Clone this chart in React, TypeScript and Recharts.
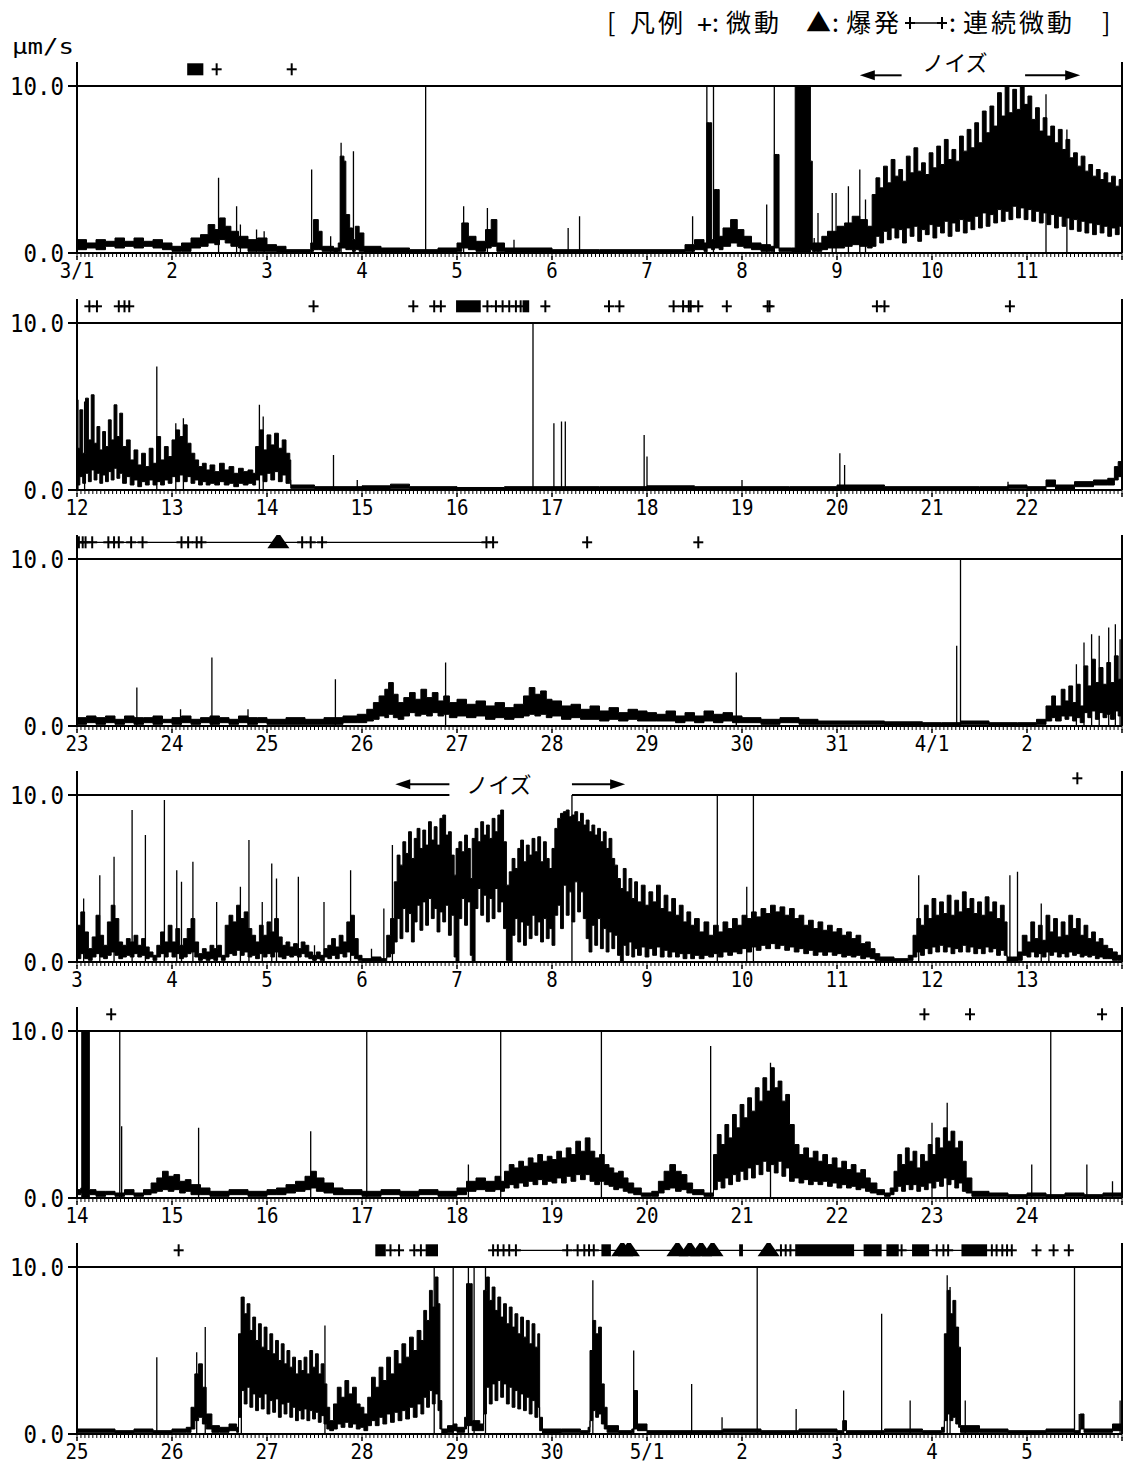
import React from 'react';
import { ComposedChart, XAxis, YAxis, Area, Line, Scatter, ReferenceLine, ReferenceArea, ReferenceDot } from 'recharts';

type Env = [number, number, number][];
type Spk = [number, number][];

// ---- tick labels (one per day, day index 0..10 of each panel) ----
const p1Labels = ['3/1', '2', '3', '4', '5', '6', '7', '8', '9', '10', '11'];
const p2Labels = ['12', '13', '14', '15', '16', '17', '18', '19', '20', '21', '22'];
const p3Labels = ['23', '24', '25', '26', '27', '28', '29', '30', '31', '4/1', '2'];
const p4Labels = ['3', '4', '5', '6', '7', '8', '9', '10', '11', '12', '13'];
const p5Labels = ['14', '15', '16', '17', '18', '19', '20', '21', '22', '23', '24'];
const p6Labels = ['25', '26', '27', '28', '29', '30', '5/1', '2', '3', '4', '5'];
const yTicks = [0, 10];

// ---- panel 1 : 3/1 - 3/12 ----  [day, low, high] amplitude envelope (μm/s)
const p1Env: Env = [[0,0.2,0.8],[0.1,0.3,0.6],[0.2,0.2,0.8],[0.3,0.4,0.7],[0.4,0.3,0.9],[0.5,0.4,0.7],[0.6,0.3,0.9],[0.7,0.4,0.7],[0.8,0.3,0.8],[0.9,0.2,0.6],[1.0,0.1,0.4],[1.1,0.1,0.6],[1.2,0.3,0.9],[1.3,0.4,1.1],[1.38,0.6,1.7],[1.45,0.5,1.4],[1.5,0.8,2.1],[1.56,0.6,1.6],[1.62,0.4,1.3],[1.7,0.3,1.0],[1.8,0.1,0.8],[1.9,0.1,0.9],[2.0,0.1,0.5],[2.1,0,0.4],[2.2,0,0.2],[2.4,0,0.2],[2.46,0.1,0.6],[2.49,0.2,2.0],[2.54,0.2,1.3],[2.58,0.1,0.4],[2.7,0,0.3],[2.75,0.1,0.6],[2.77,0.3,5.8],[2.81,0.3,5.5],[2.83,0.2,2.3],[2.87,0.2,1.5],[2.9,0.1,0.8],[2.93,0.2,1.6],[2.97,0.1,1.2],[3.02,0,0.4],[3.2,0,0.3],[3.5,0,0.2],[3.8,0,0.3],[4.0,0.1,0.6],[4.05,0.3,1.8],[4.12,0.2,1.0],[4.2,0.1,0.7],[4.3,0.3,1.4],[4.36,0.4,2.0],[4.42,0.1,0.6],[4.5,0,0.3],[5.0,0,0.2],[5.5,0,0.2],[6.0,0,0.2],[6.4,0.1,0.5],[6.5,0.2,0.8],[6.6,0.1,0.6],[6.63,0.3,7.8],[6.66,0.3,7.8],[6.68,0.2,0.8],[6.71,0.3,3.8],[6.74,0.3,3.8],[6.76,0.2,1.0],[6.8,0.4,1.5],[6.88,0.6,2.0],[6.95,0.4,1.4],[7.02,0.3,1.0],[7.1,0.2,0.6],[7.2,0.1,0.5],[7.3,0.1,0.4],[7.34,0.3,5.9],[7.37,0.3,5.9],[7.39,0.1,0.3],[7.52,0,0.3],[7.56,0,10],[7.7,0,10],[7.72,0.2,5.5],[7.74,0.1,0.6],[7.84,0.2,1.0],[7.9,0.3,1.3],[8.0,0.3,1.6],[8.08,0.4,1.8],[8.16,0.5,2.2],[8.24,0.4,2.0],[8.32,0.3,1.6],[8.37,0.4,3.5],[8.41,1.0,4.5],[8.45,0.6,3.9],[8.49,1.3,5.2],[8.53,0.8,4.2],[8.57,1.5,5.6],[8.61,0.9,4.6],[8.65,1.4,5.0],[8.69,0.6,4.3],[8.73,1.5,5.8],[8.77,1.0,4.8],[8.81,1.6,6.3],[8.85,0.7,4.9],[8.89,1.4,5.4],[8.93,1.1,4.7],[8.97,1.7,6.0],[9.01,0.9,5.1],[9.05,1.6,6.4],[9.09,1.2,5.3],[9.13,1.9,6.8],[9.17,1.0,5.6],[9.21,1.8,6.2],[9.25,1.3,5.5],[9.29,2.0,7.0],[9.33,1.2,6.1],[9.37,1.9,7.4],[9.41,1.4,6.3],[9.45,2.2,7.8],[9.49,1.5,6.6],[9.53,2.4,8.5],[9.57,1.6,7.2],[9.61,2.3,8.8],[9.65,1.8,7.6],[9.69,2.6,9.6],[9.73,1.9,8.2],[9.77,2.5,10],[9.81,2.0,8.4],[9.85,2.8,9.8],[9.89,2.1,8.6],[9.93,2.7,10],[9.97,2.0,8.9],[10.01,2.6,9.4],[10.05,1.9,8.0],[10.09,2.5,8.7],[10.13,1.8,7.3],[10.17,2.4,8.1],[10.21,1.7,7.0],[10.25,2.3,7.6],[10.29,1.5,6.6],[10.33,2.2,7.4],[10.37,1.6,6.2],[10.41,2.1,6.8],[10.45,1.4,5.7],[10.49,2.0,6.0],[10.53,1.3,5.2],[10.57,1.9,5.8],[10.61,1.2,4.9],[10.65,1.8,5.3],[10.69,1.1,4.6],[10.73,1.7,5.0],[10.77,1.2,4.4],[10.81,1.6,4.8],[10.85,1.0,4.2],[10.89,1.5,4.6],[10.93,1.1,4.0],[10.97,1.6,4.4],[11,1.3,3.8]];
const p1Spk: Spk = [[1.49,4.5],[1.68,2.8],[1.72,1.7],[1.89,1.4],[1.97,1.3],[2.47,5.0],[2.67,1.0],[2.78,6.6],[2.91,6.1],[3.67,10],[4.07,2.8],[4.32,2.7],[4.6,0.8],[5.17,1.5],[5.29,2.2],[6.48,2.2],[6.63,10],[6.7,10],[7.26,2.9],[7.34,10],[7.76,0.9],[7.8,2.4],[7.95,3.6],[7.99,3.6],[8.12,4.0],[8.24,5.0],[8.3,3.2],[10.2,9.5],[10.42,7.4]];
const p1Plus = [1.47, 2.26];
const p1Block: [number, number][] = [[1.16, 1.33]];
const p1Cont: [number, number][] = [];
const p1Erupt: number[] = [];
const p1Noise = [8.24, 8.68, 9.24, 9.98, 10.56];

// ---- panel 2 : 3/12 - 3/23 ----
const p2Env: Env = [[0,0.3,2.5],[0.03,0.8,4.8],[0.06,0.4,2.2],[0.09,1.0,5.5],[0.12,0.5,3.0],[0.15,1.2,5.7],[0.18,0.6,2.8],[0.21,1.0,3.8],[0.24,0.4,2.4],[0.27,0.9,3.5],[0.3,0.5,2.6],[0.33,1.1,4.2],[0.36,0.6,3.0],[0.39,1.3,5.1],[0.42,0.7,3.2],[0.45,1.0,4.6],[0.48,0.4,2.6],[0.52,0.8,3.0],[0.56,0.3,1.8],[0.6,0.6,2.4],[0.64,0.2,1.5],[0.68,0.5,2.2],[0.72,0.3,1.4],[0.76,0.6,2.5],[0.8,0.3,1.6],[0.84,0.5,3.2],[0.88,0.3,1.8],[0.92,0.6,2.6],[0.96,0.4,2.0],[1.0,0.8,3.0],[1.04,0.5,3.6],[1.08,0.9,3.2],[1.12,0.5,3.9],[1.16,0.8,2.8],[1.2,0.4,2.2],[1.24,0.6,1.8],[1.28,0.3,1.4],[1.32,0.5,1.6],[1.36,0.3,1.2],[1.4,0.4,1.5],[1.45,0.3,1.1],[1.5,0.5,1.6],[1.55,0.3,1.2],[1.6,0.4,1.4],[1.65,0.2,1.0],[1.7,0.4,1.3],[1.75,0.3,1.1],[1.8,0.4,1.2],[1.85,0.3,1.0],[1.88,0.6,2.6],[1.92,0.9,3.6],[1.96,0.5,2.4],[2.0,1.0,3.3],[2.04,0.6,2.7],[2.08,1.1,3.4],[2.12,0.5,2.5],[2.16,0.9,3.0],[2.2,0.4,2.2],[2.24,0.6,1.8],[2.25,0.1,0.3],[2.5,0.05,0.2],[3.0,0.05,0.25],[3.3,0.1,0.35],[3.5,0.05,0.2],[4.0,0.05,0.15],[4.5,0.05,0.2],[5.0,0.05,0.2],[5.5,0.05,0.2],[6.0,0.05,0.25],[6.5,0.05,0.2],[7.0,0.05,0.2],[7.5,0.05,0.2],[8.0,0.05,0.3],[8.5,0.05,0.2],[9.0,0.05,0.2],[9.5,0.05,0.2],[9.8,0.1,0.3],[10.0,0.05,0.2],[10.2,0.2,0.6],[10.3,0.05,0.3],[10.5,0.2,0.5],[10.7,0.3,0.6],[10.85,0.3,0.7],[10.92,0.6,1.4],[10.96,0.8,1.7],[11,0.9,1.8]];
const p2Spk: Spk = [[0.01,5.4],[0.08,5.3],[0.84,7.4],[1.04,4.0],[1.12,4.3],[1.92,5.1],[1.96,4.4],[2.7,2.1],[2.95,0.6],[4.8,10],[5.02,4.0],[5.1,4.1],[5.14,4.1],[5.97,3.3],[6.0,2.0],[7.0,0.6],[8.03,2.2],[8.08,1.5],[9.8,0.5]];
const p2Plus = [0.13, 0.21, 0.44, 0.5, 0.55, 2.49, 3.54, 3.76, 3.83, 4.32, 4.41, 4.48, 4.55, 4.62, 4.67, 4.93, 5.6, 5.71, 6.28, 6.38, 6.44, 6.46, 6.54, 6.84, 7.27, 7.29, 8.42, 8.5, 9.82];
const p2Block: [number, number][] = [[3.99, 4.25], [4.69, 4.76]];
const p2Cont: [number, number][] = [];
const p2Erupt: number[] = [];

// ---- panel 3 : 3/23 - 4/3 ----
const p3Env: Env = [[0,0.1,0.5],[0.1,0.2,0.6],[0.2,0.1,0.5],[0.3,0.2,0.6],[0.4,0.1,0.4],[0.5,0.2,0.6],[0.6,0.1,0.5],[0.7,0.2,0.5],[0.8,0.1,0.6],[0.9,0.2,0.4],[1.0,0.1,0.5],[1.1,0.2,0.6],[1.2,0.1,0.4],[1.3,0.2,0.5],[1.4,0.1,0.6],[1.5,0.2,0.5],[1.6,0.1,0.4],[1.7,0.2,0.6],[1.8,0.1,0.5],[1.9,0.2,0.5],[2.0,0.1,0.4],[2.2,0.1,0.5],[2.4,0.1,0.4],[2.6,0.1,0.5],[2.8,0.2,0.6],[2.95,0.2,0.7],[3.05,0.3,1.0],[3.12,0.4,1.4],[3.18,0.6,1.8],[3.24,0.5,2.2],[3.28,0.7,2.6],[3.33,0.5,1.9],[3.38,0.4,1.4],[3.44,0.6,1.7],[3.5,0.8,2.0],[3.56,0.6,1.6],[3.62,0.7,2.2],[3.68,0.6,1.7],[3.74,0.8,2.0],[3.8,0.6,1.5],[3.86,0.7,1.8],[3.92,0.5,1.4],[4.0,0.6,1.6],[4.1,0.5,1.3],[4.2,0.6,1.5],[4.3,0.4,1.2],[4.4,0.5,1.4],[4.5,0.4,1.1],[4.6,0.5,1.3],[4.7,0.6,1.8],[4.76,0.7,2.3],[4.82,0.6,1.9],[4.88,0.7,2.1],[4.94,0.5,1.6],[5.0,0.6,1.5],[5.1,0.4,1.2],[5.2,0.5,1.3],[5.3,0.4,1.0],[5.4,0.4,1.2],[5.5,0.3,0.9],[5.6,0.4,1.1],[5.7,0.3,0.8],[5.8,0.4,1.0],[5.9,0.3,0.9],[6.0,0.3,0.8],[6.1,0.3,0.7],[6.2,0.3,0.9],[6.3,0.2,0.6],[6.4,0.3,0.8],[6.5,0.2,0.6],[6.6,0.3,0.9],[6.7,0.2,0.7],[6.8,0.3,0.8],[6.9,0.2,0.6],[7.0,0.2,0.5],[7.2,0.1,0.4],[7.4,0.2,0.5],[7.6,0.1,0.4],[7.8,0.1,0.3],[8.0,0.1,0.3],[8.5,0.05,0.25],[8.9,0.05,0.2],[9.1,0.05,0.2],[9.3,0.1,0.3],[9.6,0.05,0.2],[9.9,0.05,0.2],[10.1,0.1,0.4],[10.2,0.3,1.2],[10.26,0.5,1.8],[10.3,0.3,1.2],[10.36,0.6,2.2],[10.4,0.4,1.5],[10.44,0.6,2.4],[10.48,0.3,1.4],[10.52,0.5,2.5],[10.56,0.2,1.2],[10.6,0.8,3.6],[10.64,0.5,2.4],[10.68,0.9,4.0],[10.72,0.4,2.6],[10.76,0.8,3.5],[10.8,0.5,2.5],[10.84,0.7,3.8],[10.88,0.4,2.6],[10.92,0.9,4.2],[10.96,0.6,2.8],[11,0.8,3.2]];
const p3Spk: Spk = [[0.63,2.3],[1.09,1.0],[1.42,4.1],[1.8,1.0],[2.72,2.8],[3.88,3.8],[6.94,3.2],[9.26,4.8],[9.3,10],[10.52,3.7],[10.6,5.0],[10.68,5.5],[10.76,5.4],[10.86,5.9],[10.93,6.1],[10.98,5.2]];
const p3Plus = [0.02, 0.06, 0.09, 0.16, 0.33, 0.39, 0.44, 0.57, 0.69, 1.1, 1.17, 1.26, 1.31, 2.37, 2.46, 2.58, 4.31, 4.38, 5.37, 6.54];
const p3Block: [number, number][] = [];
const p3Cont: [number, number][] = [[0.02, 4.38]];
const p3Erupt = [2.12];

// ---- panel 4 : 4/3 - 4/14 ----
const p4Env: Env = [[0,0.2,2.2],[0.04,0.5,3.0],[0.08,0.2,1.8],[0.12,0.1,0.8],[0.16,0.3,1.5],[0.2,0.5,2.8],[0.24,0.3,1.6],[0.28,0.2,1.0],[0.32,0.4,2.4],[0.36,0.6,3.4],[0.4,0.4,2.6],[0.44,0.2,1.2],[0.48,0.3,1.0],[0.52,0.4,1.4],[0.56,0.3,1.2],[0.6,0.5,1.6],[0.64,0.3,1.0],[0.68,0.4,1.4],[0.72,0.2,0.9],[0.76,0.3,0.6],[0.8,0.1,0.4],[0.84,0.3,1.0],[0.88,0.5,1.8],[0.92,0.3,1.2],[0.96,0.6,2.2],[1.0,0.3,1.2],[1.04,0.5,2.0],[1.08,0.2,1.0],[1.12,0.3,1.4],[1.16,0.5,2.0],[1.2,0.6,2.6],[1.24,0.3,1.2],[1.28,0.1,0.5],[1.32,0.2,0.8],[1.36,0.1,0.6],[1.4,0.2,1.0],[1.44,0.1,0.8],[1.48,0.3,1.0],[1.52,0.1,0.4],[1.56,0.3,2.2],[1.6,0.5,2.8],[1.64,0.4,2.4],[1.68,0.7,3.4],[1.72,0.4,2.6],[1.76,0.6,3.0],[1.8,0.3,2.0],[1.84,0.4,1.6],[1.88,0.2,1.2],[1.92,0.5,2.2],[1.96,0.3,1.6],[2.0,0.5,2.4],[2.04,0.3,1.8],[2.08,0.6,2.6],[2.12,0.3,1.5],[2.16,0.2,1.0],[2.2,0.4,1.2],[2.24,0.3,0.9],[2.28,0.4,1.1],[2.32,0.3,0.8],[2.36,0.5,1.2],[2.4,0.3,1.0],[2.44,0.2,0.6],[2.48,0.1,0.4],[2.52,0.2,0.6],[2.56,0.1,0.4],[2.6,0.3,0.8],[2.64,0.2,1.0],[2.68,0.4,1.4],[2.72,0.2,0.9],[2.76,0.5,1.6],[2.8,0.3,1.2],[2.84,0.6,2.4],[2.88,0.4,2.8],[2.92,0.2,1.4],[2.96,0.1,0.4],[3.0,0.05,0.2],[3.1,0.05,0.3],[3.2,0.05,0.2],[3.26,0.3,1.6],[3.3,0.5,2.6],[3.34,1.2,4.8],[3.37,2.6,6.4],[3.4,1.4,5.8],[3.43,3.2,7.2],[3.46,1.8,6.5],[3.49,2.9,7.8],[3.52,1.2,6.2],[3.55,2.4,7.4],[3.58,3.4,8.0],[3.61,1.9,6.8],[3.64,3.6,7.9],[3.67,2.2,7.0],[3.7,3.8,8.4],[3.73,2.6,7.3],[3.76,3.2,8.1],[3.79,1.8,7.0],[3.82,3.0,8.6],[3.85,2.4,8.8],[3.88,3.4,7.6],[3.91,1.6,7.8],[3.94,2.8,6.4],[3.97,0.3,5.2],[3.99,0,6.8],[4.02,2.6,7.2],[4.05,3.8,6.6],[4.08,2.2,7.6],[4.11,3.6,6.8],[4.14,0.4,5.0],[4.16,0,7.4],[4.19,3.2,8.0],[4.22,4.4,7.2],[4.25,2.8,8.4],[4.28,4.0,7.6],[4.31,2.4,8.2],[4.34,3.8,7.4],[4.37,2.6,8.6],[4.4,4.4,7.8],[4.43,3.0,8.8],[4.46,3.6,9.1],[4.49,2.0,7.2],[4.52,0.1,4.6],[4.55,0,5.4],[4.58,1.6,6.2],[4.61,2.6,5.6],[4.64,1.2,6.8],[4.67,2.4,7.3],[4.7,1.0,6.0],[4.73,2.2,7.0],[4.76,1.4,6.4],[4.79,2.8,7.4],[4.82,1.6,6.6],[4.85,2.4,7.5],[4.88,1.2,6.0],[4.91,2.6,7.2],[4.94,1.4,6.2],[4.97,2.0,5.6],[5.0,1.0,6.8],[5.03,2.8,8.0],[5.06,3.4,8.6],[5.09,2.0,8.9],[5.12,4.6,9.0],[5.15,2.8,9.1],[5.18,4.2,8.7],[5.21,2.4,8.8],[5.24,4.8,9.0],[5.27,3.0,8.4],[5.3,4.2,8.9],[5.33,2.6,8.2],[5.36,1.4,8.5],[5.39,0.6,7.8],[5.42,2.2,8.2],[5.45,1.0,7.6],[5.48,2.6,8.0],[5.51,0.8,7.2],[5.54,2.0,7.8],[5.57,0.6,6.8],[5.6,1.8,7.4],[5.63,0.8,6.2],[5.66,1.6,5.8],[5.69,0.4,5.0],[5.72,0,4.4],[5.75,1.0,5.6],[5.78,0.4,4.2],[5.81,1.2,5.0],[5.84,0.3,3.8],[5.87,0.8,4.8],[5.9,0.4,3.6],[5.94,0.9,4.6],[5.98,0.3,3.4],[6.02,0.8,4.2],[6.06,0.4,3.6],[6.1,0.9,4.6],[6.14,0.3,3.2],[6.18,0.7,4.0],[6.22,0.3,3.0],[6.26,0.6,3.8],[6.3,0.3,2.8],[6.34,0.5,3.4],[6.38,0.2,2.4],[6.42,0.5,3.0],[6.46,0.2,2.2],[6.5,0.4,2.6],[6.55,0.2,1.8],[6.6,0.4,2.4],[6.65,0.3,1.6],[6.7,0.5,2.2],[6.75,0.3,1.8],[6.8,0.6,2.4],[6.85,0.4,2.0],[6.9,0.6,2.6],[6.95,0.5,2.2],[7.0,0.8,2.8],[7.05,0.6,2.6],[7.1,0.9,3.0],[7.15,0.7,2.7],[7.2,1.0,3.2],[7.25,0.8,2.9],[7.3,1.1,3.4],[7.35,0.8,3.0],[7.4,1.0,3.3],[7.45,0.7,2.8],[7.5,0.9,3.2],[7.55,0.6,2.6],[7.6,0.8,2.8],[7.65,0.5,2.2],[7.7,0.7,2.5],[7.75,0.4,2.0],[7.8,0.6,2.4],[7.85,0.4,1.9],[7.9,0.6,2.2],[7.95,0.4,1.8],[8.0,0.5,2.0],[8.05,0.3,1.6],[8.1,0.4,1.8],[8.15,0.3,1.4],[8.2,0.4,1.6],[8.25,0.2,1.1],[8.3,0.3,1.2],[8.35,0.2,0.8],[8.4,0.1,0.5],[8.45,0.05,0.3],[8.6,0.05,0.2],[8.75,0.1,0.4],[8.8,0.3,1.6],[8.84,0.6,2.6],[8.88,0.4,2.2],[8.92,0.8,3.4],[8.96,0.5,2.6],[9.0,0.9,3.8],[9.04,0.6,2.8],[9.08,1.0,3.6],[9.12,0.6,2.9],[9.16,0.9,4.0],[9.2,0.5,2.8],[9.24,0.8,3.7],[9.28,0.6,3.0],[9.32,1.0,4.2],[9.36,0.6,3.2],[9.4,0.9,3.8],[9.44,0.5,2.9],[9.48,0.8,3.6],[9.52,0.5,2.8],[9.56,0.9,3.9],[9.6,0.6,3.0],[9.64,0.8,3.6],[9.68,0.4,2.6],[9.72,0.7,3.4],[9.76,0.4,2.4],[9.79,0.05,0.3],[9.85,0.05,0.3],[9.9,0.1,0.6],[9.95,0.4,1.6],[10.0,0.3,1.2],[10.04,0.6,2.4],[10.08,0.3,1.4],[10.12,0.5,2.2],[10.16,0.3,1.3],[10.2,0.6,2.8],[10.24,0.4,1.8],[10.28,0.6,2.6],[10.32,0.3,1.5],[10.36,0.5,2.4],[10.4,0.3,1.6],[10.44,0.6,2.8],[10.48,0.4,2.0],[10.52,0.5,2.6],[10.56,0.3,1.6],[10.6,0.4,2.2],[10.64,0.3,1.4],[10.68,0.4,1.8],[10.72,0.2,1.2],[10.76,0.3,1.4],[10.8,0.2,1.0],[10.85,0.2,0.8],[10.9,0.1,0.6],[10.95,0.1,0.4],[11,0.1,0.3]];
const p4Spk: Spk = [[0.07,3.8],[0.24,5.2],[0.39,6.3],[0.58,9.1],[0.72,7.6],[0.92,9.7],[1.05,5.5],[1.1,4.8],[1.22,6.0],[1.47,3.6],[1.72,4.5],[1.81,7.3],[1.95,3.6],[2.05,5.9],[2.1,5.0],[2.33,5.1],[2.5,1.0],[2.6,3.6],[2.88,5.5],[3.1,0.8],[3.23,3.2],[3.32,7.0],[5.21,10],[6.74,10],[7.05,4.5],[7.12,10],[8.86,5.2],[9.82,5.2],[9.9,5.4],[10.15,3.5],[10.23,2.7]];
const p4Plus = [10.53];
const p4Block: [number, number][] = [];
const p4Cont: [number, number][] = [];
const p4Erupt: number[] = [];
const p4Noise = [3.35, 3.92, 4.44, 5.21, 5.77];

// ---- panel 5 : 4/14 - 4/25 ----
const p5Env: Env = [[0,0.2,0.5],[0.04,0.3,0.6],[0.05,0,10],[0.12,0,10],[0.13,0.2,0.5],[0.2,0.1,0.4],[0.3,0.2,0.4],[0.4,0.1,0.3],[0.5,0.2,0.5],[0.6,0.1,0.3],[0.7,0.2,0.5],[0.78,0.3,0.9],[0.84,0.4,1.2],[0.9,0.5,1.6],[0.96,0.4,1.3],[1.02,0.5,1.4],[1.08,0.3,1.0],[1.14,0.4,1.1],[1.2,0.2,0.8],[1.3,0.2,0.6],[1.4,0.1,0.4],[1.6,0.2,0.5],[1.8,0.1,0.4],[2.0,0.2,0.5],[2.1,0.2,0.6],[2.2,0.3,0.8],[2.3,0.4,1.0],[2.4,0.5,1.3],[2.46,0.6,1.6],[2.52,0.4,1.2],[2.6,0.3,0.9],[2.7,0.2,0.6],[2.8,0.2,0.5],[3.0,0.1,0.4],[3.2,0.2,0.5],[3.4,0.1,0.4],[3.6,0.2,0.5],[3.8,0.1,0.4],[4.0,0.2,0.6],[4.1,0.4,1.0],[4.2,0.5,1.2],[4.3,0.4,1.0],[4.4,0.5,1.3],[4.46,0.4,1.0],[4.5,0.6,1.6],[4.55,0.8,2.0],[4.6,0.6,1.8],[4.65,0.9,2.2],[4.7,0.7,1.9],[4.75,1.0,2.4],[4.8,0.8,2.1],[4.85,1.1,2.6],[4.9,0.8,2.2],[4.95,1.0,2.5],[5.0,0.9,2.3],[5.05,1.2,2.8],[5.1,0.9,2.4],[5.15,1.3,3.0],[5.2,1.0,2.6],[5.25,1.4,3.4],[5.3,1.1,2.8],[5.35,1.4,3.6],[5.4,1.0,2.8],[5.45,0.8,2.4],[5.5,1.0,2.6],[5.55,0.8,2.0],[5.6,0.7,1.8],[5.65,0.5,1.5],[5.7,0.6,1.6],[5.75,0.4,1.2],[5.8,0.3,0.9],[5.86,0.2,0.6],[5.94,0.1,0.3],[6.05,0.1,0.4],[6.12,0.3,1.0],[6.18,0.5,1.6],[6.24,0.6,2.0],[6.3,0.4,1.6],[6.36,0.5,1.4],[6.42,0.3,0.9],[6.48,0.2,0.5],[6.6,0.1,0.3],[6.7,0.5,2.6],[6.74,1.0,3.8],[6.78,0.6,3.2],[6.82,1.2,4.4],[6.86,0.8,3.6],[6.9,1.4,5.0],[6.94,1.0,4.2],[6.98,1.6,5.6],[7.02,1.1,4.8],[7.06,1.8,6.0],[7.1,1.2,5.2],[7.14,2.0,6.6],[7.18,1.4,5.8],[7.22,2.2,7.2],[7.26,1.6,6.4],[7.3,2.0,7.8],[7.34,1.5,6.6],[7.38,2.2,7.0],[7.42,1.3,5.8],[7.46,1.8,6.2],[7.5,1.0,4.4],[7.55,1.2,3.2],[7.6,0.9,2.6],[7.65,1.1,3.0],[7.7,0.8,2.4],[7.75,1.0,2.8],[7.8,0.8,2.2],[7.85,1.0,2.6],[7.9,0.7,2.0],[7.95,0.9,2.4],[8.0,0.6,1.8],[8.05,0.8,2.2],[8.1,0.6,1.7],[8.15,0.7,2.0],[8.2,0.5,1.5],[8.25,0.6,1.7],[8.3,0.4,1.2],[8.35,0.3,0.9],[8.42,0.2,0.5],[8.5,0.1,0.3],[8.56,0.2,0.6],[8.6,0.4,1.6],[8.64,0.7,2.6],[8.68,0.4,2.0],[8.72,0.8,3.0],[8.76,0.5,2.2],[8.8,0.8,2.8],[8.84,0.4,1.8],[8.88,0.7,2.6],[8.92,0.5,2.2],[8.96,0.9,3.2],[9.0,0.6,2.6],[9.04,1.0,3.6],[9.08,0.7,3.0],[9.12,1.2,4.2],[9.16,0.8,3.4],[9.2,1.1,4.0],[9.24,0.6,3.0],[9.28,0.9,3.4],[9.32,0.4,2.2],[9.36,0.3,1.2],[9.42,0.1,0.4],[9.6,0.1,0.3],[9.8,0.05,0.2],[10.0,0.1,0.3],[10.2,0.05,0.2],[10.4,0.1,0.3],[10.6,0.05,0.2],[10.8,0.1,0.3],[11,0.05,0.2]];
const p5Spk: Spk = [[0.45,10],[0.47,4.3],[1.28,4.2],[2.46,4.0],[3.05,10],[4.12,2.0],[4.46,10],[5.52,10],[6.67,9.1],[7.3,8.1],[9.0,4.5],[9.16,5.7],[10.05,2.0],[10.25,10],[10.63,2.0],[10.9,1.0]];
const p5Plus = [0.36, 8.92, 9.4, 10.79];
const p5Block: [number, number][] = [];
const p5Cont: [number, number][] = [];
const p5Erupt: number[] = [];

// ---- panel 6 : 4/25 - 5/6 ----
const p6Env: Env = [[0,0.1,0.3],[0.2,0.1,0.3],[0.4,0.05,0.2],[0.6,0.1,0.3],[0.8,0.05,0.2],[1.0,0.1,0.3],[1.15,0.1,0.4],[1.2,0.3,1.6],[1.24,0.8,3.6],[1.28,1.0,4.2],[1.32,0.6,2.8],[1.36,0.3,1.2],[1.42,0.1,0.5],[1.5,0.1,0.4],[1.6,0.2,0.6],[1.68,0.1,0.4],[1.7,1.0,6.0],[1.73,2.6,8.2],[1.76,1.8,7.2],[1.79,2.8,7.8],[1.82,1.6,6.2],[1.85,2.4,7.0],[1.88,1.4,5.6],[1.91,2.2,6.6],[1.94,1.5,5.2],[1.97,2.4,6.4],[2.0,1.2,5.0],[2.03,2.0,6.0],[2.06,1.3,4.8],[2.09,2.1,5.6],[2.12,1.0,4.4],[2.15,1.8,5.4],[2.18,1.2,4.2],[2.21,1.9,5.0],[2.24,1.0,4.0],[2.27,1.6,4.6],[2.3,0.8,3.6],[2.33,1.4,4.4],[2.36,0.9,3.8],[2.39,1.5,4.6],[2.42,0.8,3.6],[2.45,1.4,5.0],[2.48,0.9,4.0],[2.51,1.3,4.8],[2.54,0.7,3.6],[2.57,1.1,4.2],[2.6,0.6,3.0],[2.63,0.3,1.6],[2.66,0.2,0.8],[2.7,0.3,1.8],[2.74,0.6,2.8],[2.78,0.4,2.2],[2.82,0.7,3.2],[2.86,0.4,2.4],[2.9,0.6,2.8],[2.94,0.3,1.8],[2.98,0.4,1.6],[3.02,0.2,1.2],[3.06,0.5,2.2],[3.1,0.8,3.4],[3.14,0.5,2.8],[3.18,1.0,4.0],[3.22,0.6,3.2],[3.26,1.2,4.6],[3.3,0.7,3.6],[3.34,1.3,5.0],[3.38,0.8,4.2],[3.42,1.4,5.4],[3.46,0.9,4.6],[3.5,1.6,5.8],[3.54,1.0,5.0],[3.58,1.8,6.2],[3.62,1.2,5.6],[3.65,2.2,7.4],[3.68,1.6,6.8],[3.71,2.6,8.6],[3.74,1.8,7.6],[3.77,2.4,9.4],[3.8,1.4,7.8],[3.82,0.3,2.0],[3.84,0.05,0.3],[3.9,0.1,0.5],[3.96,0.2,0.6],[4.0,0.1,0.4],[4.08,0.3,1.0],[4.1,0.5,9.0],[4.14,0.5,9.0],[4.16,0.2,0.8],[4.24,0.2,0.6],[4.28,1.2,8.6],[4.31,2.8,9.4],[4.34,1.8,8.0],[4.37,3.0,8.8],[4.4,2.0,7.4],[4.43,3.2,8.2],[4.46,2.2,7.0],[4.49,3.0,7.8],[4.52,1.8,6.6],[4.55,2.8,7.6],[4.58,1.6,6.4],[4.61,2.6,7.2],[4.64,1.5,6.0],[4.67,2.4,7.0],[4.7,1.4,5.8],[4.73,2.2,6.8],[4.76,1.2,5.4],[4.79,2.0,6.6],[4.82,1.0,5.2],[4.85,1.6,6.0],[4.87,0.2,1.0],[4.9,0.05,0.3],[5.1,0.1,0.3],[5.3,0.05,0.2],[5.38,0.1,0.4],[5.4,0.8,5.0],[5.43,1.4,6.8],[5.46,1.0,6.0],[5.49,1.2,6.4],[5.52,0.6,3.0],[5.55,0.3,1.6],[5.58,0.1,0.5],[5.7,0.05,0.2],[5.84,0.1,0.3],[5.86,0.3,2.6],[5.9,0.2,0.6],[6.0,0.05,0.2],[6.4,0.05,0.2],[6.8,0.1,0.3],[7.2,0.05,0.2],[7.6,0.1,0.3],[8.0,0.05,0.2],[8.06,0.2,0.8],[8.1,0.05,0.2],[8.5,0.1,0.3],[8.9,0.05,0.2],[9.1,0.1,0.4],[9.13,0.8,6.0],[9.16,1.2,8.6],[9.19,0.8,7.2],[9.22,1.0,8.0],[9.25,0.6,6.4],[9.28,0.4,5.2],[9.3,0.1,0.5],[9.5,0.1,0.3],[9.8,0.05,0.2],[10.2,0.1,0.3],[10.5,0.05,0.2],[10.56,0.3,1.2],[10.6,0.1,0.3],[10.9,0.2,0.6],[11,0.4,1.8]];
const p6Spk: Spk = [[0.84,4.6],[1.26,4.9],[1.35,6.4],[1.73,8.2],[2.61,6.5],[3.76,10],[3.96,10],[4.12,10],[4.18,10],[4.3,10],[5.43,9.2],[5.86,5.0],[6.47,3.0],[6.79,1.0],[7.16,10],[7.57,1.5],[8.07,2.6],[8.47,7.2],[8.77,2.0],[9.16,9.5],[9.19,8.8],[9.35,2.0],[10.5,10],[10.55,1.2],[10.98,2.0]];
const p6Plus = [1.07, 3.3, 3.39, 3.55, 3.62, 4.38, 4.43, 4.49, 4.55, 4.62, 5.16, 5.27, 5.34, 5.39, 5.44, 7.41, 7.46, 7.51, 8.68, 9.05, 9.12, 9.17, 9.63, 9.68, 9.74, 9.79, 9.84, 10.1, 10.28, 10.44];
const p6Block: [number, number][] = [[3.14, 3.25], [3.67, 3.8], [5.52, 5.62], [6.97, 7.01], [7.56, 8.18], [8.28, 8.47], [8.52, 8.65], [8.79, 8.97], [9.31, 9.58]];
const p6Cont: [number, number][] = [[4.38, 9.84]];
const p6Erupt = [5.74, 5.81, 6.32, 6.45, 6.57, 6.69, 7.28];

// ---------------- drawing ----------------
const MONO = '"DejaVu Sans Mono", "Liberation Mono", monospace';
const JP = '"Noto Sans CJK JP", "Noto Sans", sans-serif';
const TOPM = 25;
const YMAX = (10 * 191) / 167;
const MARK = 11.0;
const ARROW = 10.64;
const HOURS = Array.from({ length: 11 * 24 + 1 }, (_, i) => i / 24);

const XTick = (p: any) => {
  const v = p.payload.value;
  const k = Math.round(v);
  if (Math.abs(v - k) > 1e-6) return null;
  const lab: string | undefined = p.labels[k];
  return (
    <g>
      <line x1={p.x} x2={p.x} y1={p.y - 1} y2={p.y + 3} stroke="#000" strokeWidth={1.5} />
      {lab !== undefined && (
        <text x={p.x} y={p.y + 21} textAnchor="middle" fontFamily={MONO} fontSize={22} fill="#000"
          textLength={lab.length * 11.5} lengthAdjust="spacingAndGlyphs">{lab}</text>
      )}
    </g>
  );
};

const YTick = (p: any) => {
  const lab = Number(p.payload.value).toFixed(1);
  return (
    <text x={p.x} y={p.y + 9} textAnchor="end" fontFamily={MONO} fontSize={24} fill="#000"
      textLength={lab.length * 13.5} lengthAdjust="spacingAndGlyphs">{lab}</text>
  );
};

const PlusShape = (p: any) => (
  <g>
    <line x1={p.cx - 5} x2={p.cx + 5} y1={p.cy} y2={p.cy} stroke="#000" strokeWidth={2} />
    <line x1={p.cx} x2={p.cx} y1={p.cy - 6} y2={p.cy + 6} stroke="#000" strokeWidth={2} />
  </g>
);

const TriShape = (p: any) => (
  <polygon points={`${p.cx},${p.cy - 10} ${p.cx - 11},${p.cy + 6} ${p.cx + 11},${p.cy + 6}`} fill="#000" />
);

const ArrowShape = (p: any) => {
  const { x1, y1, x2, y2 } = p;
  const d = Math.sign(x2 - x1) || 1;
  return (
    <g>
      <line x1={x1} y1={y1} x2={x2 - d * 12} y2={y2} stroke="#000" strokeWidth={2} />
      <polygon points={`${x2},${y2} ${x2 - d * 15},${y2 - 5} ${x2 - d * 15},${y2 + 5}`} fill="#000" />
    </g>
  );
};

type PanelProps = {
  zero: number; env: Env; spk: Spk; plus: number[]; block: [number, number][]; cont: [number, number][];
  erupt: number[]; labels: string[]; noise?: number[]; textDy?: number; gap?: [number, number];
};

function Panel({ zero, env, spk, plus, block, cont, erupt, labels, noise, textDy = 0, gap }: PanelProps) {
  const envData = env.map(([t, lo, hi]) => ({ t, r: [lo, hi] }));
  const spkData: { t: number; v: number }[] = [];
  [...spk].sort((a, b) => a[0] - b[0]).forEach(([t, v]) => {
    spkData.push({ t, v: 0 }, { t, v }, { t, v: 0 });
  });
  const plusData = plus.map((t) => ({ t, v: MARK }));
  const eruptData = erupt.map((t) => ({ t, v: MARK }));
  const topSegs: [number, number][] = gap ? [[0, gap[0]], [gap[1], 11]] : [[0, 11]];
  return (
    <div style={{ position: 'absolute', left: 0, top: zero - 191 - TOPM }}>
      <ComposedChart width={1125} height={TOPM + 191 + 30} margin={{ top: TOPM, right: 3, left: 0, bottom: 0 }}>
        <XAxis type="number" dataKey="t" domain={[0, 11]} ticks={HOURS} interval={0} allowDataOverflow
          tickSize={4} tickMargin={0} height={30} axisLine={{ stroke: '#000', strokeWidth: 2 }}
          tickLine={{ stroke: '#000', strokeWidth: 1 }} tick={<XTick labels={labels} />} />
        <YAxis type="number" domain={[0, YMAX]} ticks={yTicks} allowDataOverflow width={77} tickSize={9}
          tickMargin={4} axisLine={{ stroke: '#000', strokeWidth: 2 }} tickLine={{ stroke: '#000', strokeWidth: 2 }}
          tick={<YTick />} />
        <Area data={envData} dataKey="r" type="stepAfter" stroke="#000" strokeWidth={1} fill="#000" fillOpacity={1}
          dot={false} activeDot={false} isAnimationActive={false} />
        <Line data={spkData} dataKey="v" type="linear" stroke="#000" strokeWidth={1.3} dot={false}
          activeDot={false} isAnimationActive={false} />
        {topSegs.map(([a, b], i) => (
          <ReferenceLine key={'t' + i} segment={[{ x: a, y: 10 }, { x: b, y: 10 }]} stroke="#000" strokeWidth={2} />
        ))}
        <ReferenceLine x={11} stroke="#000" strokeWidth={2} />
        {block.map(([a, b], i) => (
          <ReferenceArea key={'b' + i} x1={a} x2={b} y1={MARK - 0.36} y2={MARK + 0.36} fill="#000" fillOpacity={1} stroke="none" />
        ))}
        {cont.map(([a, b], i) => (
          <ReferenceLine key={'c' + i} segment={[{ x: a, y: MARK }, { x: b, y: MARK }]} stroke="#000" strokeWidth={1.2} />
        ))}
        <Scatter data={plusData} dataKey="v" shape={PlusShape} isAnimationActive={false} />
        <Scatter data={eruptData} dataKey="v" shape={TriShape} isAnimationActive={false} />
        {noise && (
          <ReferenceLine segment={[{ x: noise[1], y: ARROW }, { x: noise[0], y: ARROW }]} shape={ArrowShape} />
        )}
        {noise && (
          <ReferenceLine segment={[{ x: noise[3], y: ARROW }, { x: noise[4], y: ARROW }]} shape={ArrowShape} />
        )}
        {noise && (
          <ReferenceDot x={noise[2]} y={ARROW} r={0} shape={(p: any) => (
            <text x={p.cx} y={p.cy + textDy} textAnchor="middle" fontFamily={JP} fontSize={22} fill="#000">ノイズ</text>
          )} />
        )}
      </ComposedChart>
    </div>
  );
}

const LegendBar = () => {
  const t = (x: number, s: string, f = JP, ls = 3) => (
    <text x={x} y={32} fontFamily={f} fontSize={25} fill="#000" letterSpacing={ls}>{s}</text>
  );
  return (
    <svg width={1125} height={60} style={{ position: 'absolute', left: 0, top: 0 }}>
      <text x={12} y={54} fontFamily={MONO} fontSize={21} fill="#000" textLength={62} lengthAdjust="spacingAndGlyphs">μm/s</text>
      {t(607, '[', JP, 0)}
      {t(630, '凡例')}
      {t(697, '+', MONO, 0)}
      {t(712, ':', JP, 0)}
      {t(726, '微動')}
      {t(806, '▲', JP, 0)}
      {t(832, ':', JP, 0)}
      {t(846, '爆発')}
      <line x1={910} x2={942} y1={23} y2={23} stroke="#000" strokeWidth={1.5} />
      <line x1={905} x2={915} y1={23} y2={23} stroke="#000" strokeWidth={2} />
      <line x1={910} x2={910} y1={17} y2={29} stroke="#000" strokeWidth={2} />
      <line x1={937} x2={947} y1={23} y2={23} stroke="#000" strokeWidth={2} />
      <line x1={942} x2={942} y1={17} y2={29} stroke="#000" strokeWidth={2} />
      {t(949, ':', JP, 0)}
      {t(963, '連続微動')}
      {t(1102, ']', JP, 0)}
    </svg>
  );
};

export default function App() {
  return (
    <div style={{ position: 'absolute', left: 0, top: 0, width: 1125, height: 1472, background: '#fff', overflow: 'hidden' }}>
      <LegendBar />
      <Panel zero={253} env={p1Env} spk={p1Spk} plus={p1Plus} block={p1Block} cont={p1Cont} erupt={p1Erupt} labels={p1Labels} noise={p1Noise} textDy={-4} />
      <Panel zero={490} env={p2Env} spk={p2Spk} plus={p2Plus} block={p2Block} cont={p2Cont} erupt={p2Erupt} labels={p2Labels} />
      <Panel zero={726} env={p3Env} spk={p3Spk} plus={p3Plus} block={p3Block} cont={p3Cont} erupt={p3Erupt} labels={p3Labels} />
      <Panel zero={962} env={p4Env} spk={p4Spk} plus={p4Plus} block={p4Block} cont={p4Cont} erupt={p4Erupt} labels={p4Labels} noise={p4Noise} textDy={9} gap={[p4Noise[1], p4Noise[3]]} />
      <Panel zero={1198} env={p5Env} spk={p5Spk} plus={p5Plus} block={p5Block} cont={p5Cont} erupt={p5Erupt} labels={p5Labels} />
      <Panel zero={1434} env={p6Env} spk={p6Spk} plus={p6Plus} block={p6Block} cont={p6Cont} erupt={p6Erupt} labels={p6Labels} />
    </div>
  );
}
